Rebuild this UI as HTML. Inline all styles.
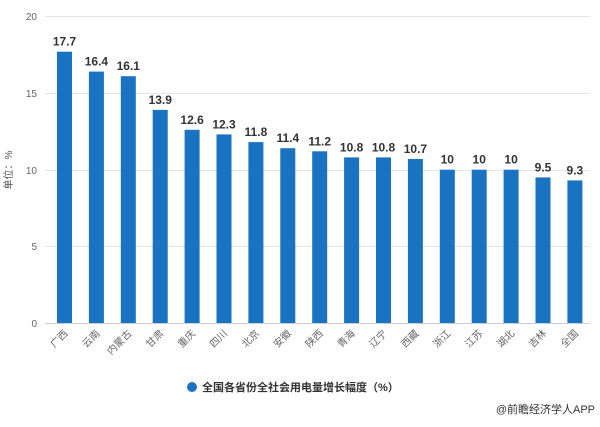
<!DOCTYPE html>
<html><head><meta charset="utf-8"><style>
body{margin:0;background:#fff;width:600px;height:422px;overflow:hidden}
text{font-family:"Liberation Sans","Noto Sans CJK SC",sans-serif}
</style></head><body>
<svg width="600" height="422" viewBox="0 0 600 422" xmlns="http://www.w3.org/2000/svg">
<g stroke="#e6e6e6" stroke-width="1">
<line x1="45" y1="16.5" x2="590" y2="16.5"/>
<line x1="45" y1="93.5" x2="590" y2="93.5"/>
<line x1="45" y1="170.5" x2="590" y2="170.5"/>
<line x1="45" y1="246.5" x2="590" y2="246.5"/>
</g>
<line x1="45" y1="323.5" x2="590" y2="323.5" stroke="#ccc"/>
<g font-size="10" fill="#666" text-anchor="end">
<text x="37" y="20">20</text><text x="37" y="97">15</text><text x="37" y="174">10</text><text x="37" y="250">5</text><text x="37" y="327">0</text>
</g>
<text transform="translate(12,170) rotate(-90)" font-size="10" fill="#555" text-anchor="middle">单位：%</text>
<g fill="#1a73c1">
<rect x="57" y="51.7" width="15" height="271.3"/>
<rect x="88.9" y="71.6" width="15" height="251.4"/>
<rect x="120.8" y="76.2" width="15" height="246.8"/>
<rect x="152.7" y="109.9" width="15" height="213.1"/>
<rect x="184.6" y="129.8" width="15" height="193.2"/>
<rect x="216.5" y="134.4" width="15" height="188.6"/>
<rect x="248.4" y="142.1" width="15" height="180.9"/>
<rect x="280.3" y="148.2" width="15" height="174.8"/>
<rect x="312.2" y="151.3" width="15" height="171.7"/>
<rect x="344.1" y="157.4" width="15" height="165.6"/>
<rect x="376" y="157.4" width="15" height="165.6"/>
<rect x="407.9" y="159" width="15" height="164"/>
<rect x="439.8" y="169.7" width="15" height="153.3"/>
<rect x="471.7" y="169.7" width="15" height="153.3"/>
<rect x="503.6" y="169.7" width="15" height="153.3"/>
<rect x="535.5" y="177.4" width="15" height="145.6"/>
<rect x="567.4" y="180.4" width="15" height="142.6"/>
</g>
<g font-size="12" fill="#333" text-anchor="middle" font-weight="bold">
<text x="64.5" y="45.7">17.7</text>
<text x="96.4" y="65.6">16.4</text>
<text x="128.3" y="70.2">16.1</text>
<text x="160.2" y="103.9">13.9</text>
<text x="192.1" y="123.8">12.6</text>
<text x="224" y="128.4">12.3</text>
<text x="255.9" y="136.1">11.8</text>
<text x="287.8" y="142.2">11.4</text>
<text x="319.7" y="145.3">11.2</text>
<text x="351.6" y="151.4">10.8</text>
<text x="383.5" y="151.4">10.8</text>
<text x="415.4" y="153">10.7</text>
<text x="447.3" y="163.7">10</text>
<text x="479.2" y="163.7">10</text>
<text x="511.1" y="163.7">10</text>
<text x="543" y="171.4">9.5</text>
<text x="574.9" y="174.4">9.3</text>
</g>
<g font-size="10" fill="#666" text-anchor="end">
<text transform="translate(68.5,334) rotate(-45)">广西</text>
<text transform="translate(100.4,334) rotate(-45)">云南</text>
<text transform="translate(132.3,334) rotate(-45)">内蒙古</text>
<text transform="translate(164.2,334) rotate(-45)">甘肃</text>
<text transform="translate(196.1,334) rotate(-45)">重庆</text>
<text transform="translate(228,334) rotate(-45)">四川</text>
<text transform="translate(259.9,334) rotate(-45)">北京</text>
<text transform="translate(291.8,334) rotate(-45)">安徽</text>
<text transform="translate(323.7,334) rotate(-45)">陕西</text>
<text transform="translate(355.6,334) rotate(-45)">青海</text>
<text transform="translate(387.5,334) rotate(-45)">辽宁</text>
<text transform="translate(419.4,334) rotate(-45)">西藏</text>
<text transform="translate(451.3,334) rotate(-45)">浙江</text>
<text transform="translate(483.2,334) rotate(-45)">江苏</text>
<text transform="translate(515.1,334) rotate(-45)">湖北</text>
<text transform="translate(547,334) rotate(-45)">吉林</text>
<text transform="translate(578.9,334) rotate(-45)">全国</text>
</g>
<circle cx="192" cy="387" r="5" fill="#1a73c1"/>
<text x="202" y="391" font-size="11" font-weight="bold" fill="#333">全国各省份全社会用电量增长幅度（%）</text>
<text x="595" y="413" font-size="11" fill="#333" text-anchor="end">@前瞻经济学人APP</text>
</svg>
</body></html>
